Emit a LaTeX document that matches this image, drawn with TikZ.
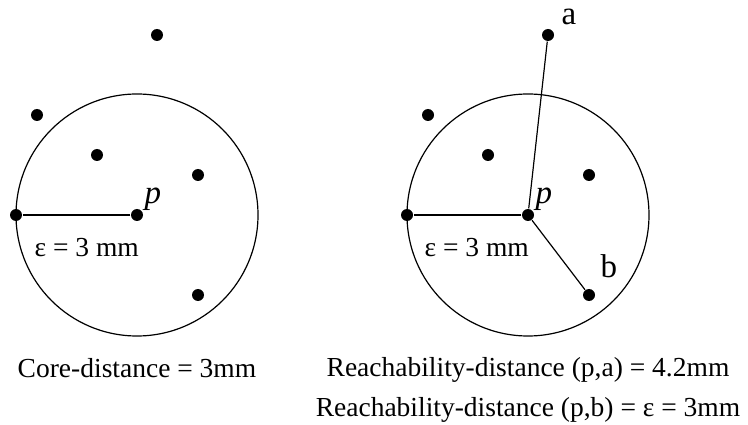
\documentclass[tikz,border=0pt]{standalone}
\usepackage{fontspec}
\setmainfont{Liberation Serif}

\begin{document}
\begin{tikzpicture}[x=1pt, y=-1pt, line width=1.2pt,
    every node/.style={font=\fontsize{27.5}{33}\selectfont},
    dot/.style={circle, fill, inner sep=0pt, minimum size=12pt},
    lbl/.style={font=\fontsize{33}{40}\selectfont, inner sep=0pt}]
  \useasboundingbox (0,0) rectangle (748,425);

  % Core-distance of p
  \node[dot] (p1) at (137,215) {};
  \node[dot] (e1) at (16,215) {};
  \node[dot] (u1) at (157,35) {};
  \node[dot] (v1) at (37,115) {};
  \node[dot] (w1) at (97,155) {};
  \node[dot] (x1) at (198,175) {};
  \node[dot] (y1) at (198,295) {};

  \draw (p1.center) circle (121pt);
  \draw (p1) -- (e1);

  \node[lbl, anchor=base west] (pl1) at (144,204) {\textit{p}};
  \node[anchor=base west, inner sep=0pt] (eps1) at (34,257) {ε = 3 mm};
  \node[anchor=base] (core) at (137,377) {Core-distance = 3mm};

  % Reachability-distance from p
  \node[dot] (p2) at (528,215) {};
  \node[dot] (e2) at (407,215) {};
  \node[dot] (a) at (548,35) {};
  \node[dot] (v2) at (428,115) {};
  \node[dot] (w2) at (488,155) {};
  \node[dot] (x2) at (589,175) {};
  \node[dot] (b) at (589,295) {};

  \draw (p2.center) circle (121pt);
  \draw (p2) -- (e2);
  \draw (p2) -- (a);
  \draw (p2) -- (b);

  \node[lbl, anchor=base west] (pl2) at (535,204) {\textit{p}};
  \node[lbl, anchor=base west] (al) at (561,25) {a};
  \node[lbl, anchor=base west] (bl) at (600,277) {b};
  \node[anchor=base west, inner sep=0pt] (eps2) at (424,257) {ε = 3 mm};
  \node[anchor=base] (reach1) at (528,376) {Reachability-distance (p,a) = 4.2mm};
  \node[anchor=base] (reach2) at (528,416) {Reachability-distance (p,b) = ε = 3mm};
\end{tikzpicture}
\end{document}
